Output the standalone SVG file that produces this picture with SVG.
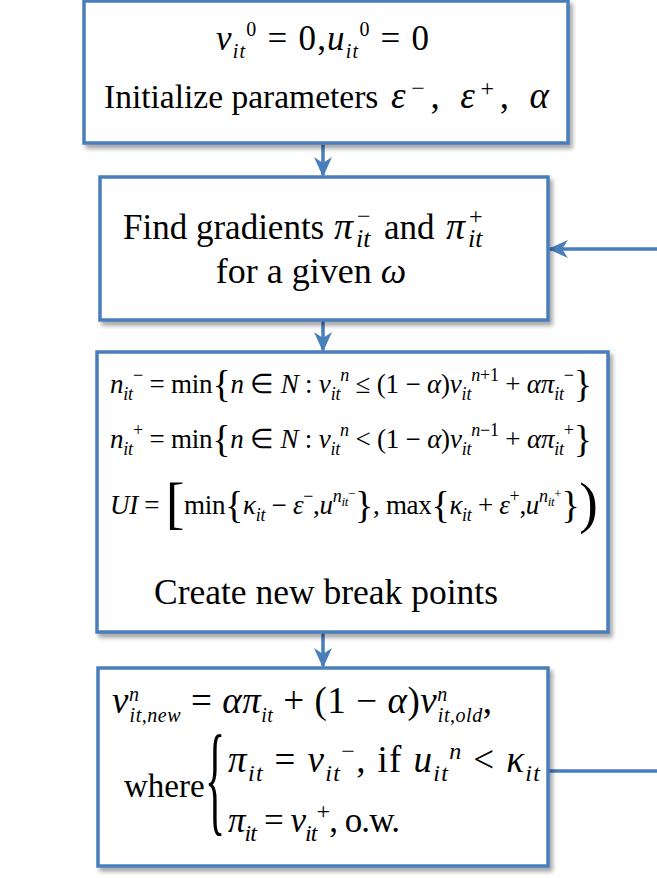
<svg xmlns="http://www.w3.org/2000/svg" width="657" height="878" viewBox="0 0 657 878">
<defs>
<filter id="sh" x="-5%" y="-5%" width="115%" height="120%">
<feDropShadow dx="3" dy="4" stdDeviation="2" flood-color="#000" flood-opacity="0.35"/>
</filter>
<marker id="ah" viewBox="0 0 20 20" refX="18" refY="10" markerWidth="20" markerHeight="20" markerUnits="userSpaceOnUse" orient="auto">
<path d="M0,1 L20,10 L0,19 L6,10 Z" fill="#4A7EBB"/>
</marker>
<style>
.box{fill:#fff;stroke:#4A7EBB;stroke-width:3.5;filter:url(#sh)}
.con{fill:none;stroke:#4A7EBB;stroke-width:3.5}
.t{font-family:"Liberation Serif","Times New Roman",serif;font-size:34px;fill:#000}
.f30{font-size:27px}
.i{font-style:italic}
.s{font-size:20px}
.s3{font-size:18px}
.s2{font-size:24px}
.ss{font-size:13px}
.br{font-size:38px}
.bg{font-size:56px}
</style>
</defs>

<g id="connectors">
<path class="con" d="M323,143 V175" marker-end="url(#ah)"/>
<path class="con" d="M323,320 V350" marker-end="url(#ah)"/>
<path class="con" d="M323,632 V666" marker-end="url(#ah)"/>
<path class="con" d="M548,771 H670 V249 H550" marker-end="url(#ah)"/>
</g>

<g id="init">
<rect class="box" x="84" y="1" width="484" height="142"/>
<text class="t" x="216" y="50" textLength="213" lengthAdjust="spacing" style="font-size:35px"><tspan class="i">v</tspan><tspan class="i s" baseline-shift="-8">it</tspan><tspan class="s" baseline-shift="14">0</tspan> = 0,<tspan class="i">u</tspan><tspan class="i s" baseline-shift="-8">it</tspan><tspan class="s" baseline-shift="14">0</tspan> = 0</text>
<text class="t" x="104" y="108" style="font-size:33.5px">Initialize parameters</text>
<text class="t" x="391" y="108" textLength="158" lengthAdjust="spacing" style="font-size:37px"><tspan class="i">ε</tspan><tspan class="s2" baseline-shift="12">−</tspan>, <tspan class="i">ε</tspan><tspan class="s2" baseline-shift="12">+</tspan>, <tspan class="i">α</tspan></text>
</g>

<g id="gradients">
<rect class="box" x="100" y="177" width="448" height="143"/>
<text class="t" x="123" y="239" style="font-size:35px">Find gradients</text>
<text class="t i" x="334" y="239" style="font-size:38px">π</text>
<text class="t i" x="356" y="247" style="font-size:26px">it</text>
<text class="t" x="357" y="224" style="font-size:24px">−</text>
<text class="t" x="384" y="239" style="font-size:35px">and</text>
<text class="t i" x="446" y="239" style="font-size:38px">π</text>
<text class="t i" x="468" y="247" style="font-size:26px">it</text>
<text class="t" x="469" y="224" style="font-size:24px">+</text>
<text class="t" x="311" y="283" text-anchor="middle" style="font-size:36px">for a given <tspan class="i">ω</tspan></text>
</g>

<g id="breakpoints">
<rect class="box" x="97" y="352" width="511" height="280"/>
<text class="t f30" x="110" y="393" textLength="482" lengthAdjust="spacing"><tspan class="i">n</tspan><tspan class="i s3" baseline-shift="-7">it</tspan><tspan class="s3" baseline-shift="12">−</tspan> = min<tspan class="br" baseline-shift="-4">{</tspan><tspan class="i">n</tspan> ∈ <tspan class="i">N</tspan> : <tspan class="i">v</tspan><tspan class="i s3" baseline-shift="-7">it</tspan><tspan class="i s3" baseline-shift="12">n</tspan> ≤ (1 − <tspan class="i">α</tspan>)<tspan class="i">v</tspan><tspan class="i s3" baseline-shift="-7">it</tspan><tspan class="s3" baseline-shift="12"><tspan class="i">n</tspan>+1</tspan> + <tspan class="i">απ</tspan><tspan class="i s3" baseline-shift="-7">it</tspan><tspan class="s3" baseline-shift="12">−</tspan><tspan class="br" baseline-shift="-4">}</tspan></text>
<text class="t f30" x="110" y="448" textLength="482" lengthAdjust="spacing"><tspan class="i">n</tspan><tspan class="i s3" baseline-shift="-7">it</tspan><tspan class="s3" baseline-shift="12">+</tspan> = min<tspan class="br" baseline-shift="-4">{</tspan><tspan class="i">n</tspan> ∈ <tspan class="i">N</tspan> : <tspan class="i">v</tspan><tspan class="i s3" baseline-shift="-7">it</tspan><tspan class="i s3" baseline-shift="12">n</tspan> &lt; (1 − <tspan class="i">α</tspan>)<tspan class="i">v</tspan><tspan class="i s3" baseline-shift="-7">it</tspan><tspan class="s3" baseline-shift="12"><tspan class="i">n</tspan>−1</tspan> + <tspan class="i">απ</tspan><tspan class="i s3" baseline-shift="-7">it</tspan><tspan class="s3" baseline-shift="12">+</tspan><tspan class="br" baseline-shift="-4">}</tspan></text>
<text class="t f30" x="110" y="514" textLength="488" lengthAdjust="spacing"><tspan class="i">UI</tspan> = <tspan class="bg" baseline-shift="-8">[</tspan>min<tspan class="br" baseline-shift="-4">{</tspan><tspan class="i">κ</tspan><tspan class="i s3" baseline-shift="-7">it</tspan> − <tspan class="i">ε</tspan><tspan class="s3" baseline-shift="12">−</tspan>,<tspan class="i">u</tspan><tspan class="s3" baseline-shift="12"><tspan class="i">n</tspan><tspan class="i ss" baseline-shift="-4">it</tspan><tspan class="ss" baseline-shift="4">−</tspan></tspan><tspan class="br" baseline-shift="-4">}</tspan>, max<tspan class="br" baseline-shift="-4">{</tspan><tspan class="i">κ</tspan><tspan class="i s3" baseline-shift="-7">it</tspan> + <tspan class="i">ε</tspan><tspan class="s3" baseline-shift="12">+</tspan>,<tspan class="i">u</tspan><tspan class="s3" baseline-shift="12"><tspan class="i">n</tspan><tspan class="i ss" baseline-shift="-4">it</tspan><tspan class="ss" baseline-shift="4">+</tspan></tspan><tspan class="br" baseline-shift="-4">}</tspan><tspan class="bg" baseline-shift="-8">)</tspan></text>
<text class="t" x="326" y="604" text-anchor="middle" style="font-size:35.5px">Create new break points</text>
</g>

<g id="update">
<rect class="box" x="98" y="668" width="450" height="198"/>
<text class="t" x="112" y="713" textLength="380" lengthAdjust="spacing" style="font-size:37px"><tspan class="i">v</tspan><tspan class="i s" baseline-shift="12">n</tspan><tspan class="i s" dx="-10" baseline-shift="-9">it,new</tspan> = <tspan class="i">απ</tspan><tspan class="i s" baseline-shift="-9">it</tspan> + (1 − <tspan class="i">α</tspan>)<tspan class="i">v</tspan><tspan class="i s" baseline-shift="12">n</tspan><tspan class="i s" dx="-10" baseline-shift="-9">it,old</tspan>,</text>
<text class="t" x="124" y="797" style="font-size:33px">where</text>
<text class="t" transform="translate(205,820) scale(1,2.9)" style="font-size:42px">{</text>
<text class="t" x="228" y="772" textLength="312" lengthAdjust="spacing" style="font-size:37px"><tspan class="i">π</tspan><tspan class="i s2" baseline-shift="-9">it</tspan> = <tspan class="i">v</tspan><tspan class="i s2" baseline-shift="-9">it</tspan><tspan class="s2" baseline-shift="13">−</tspan>, if <tspan class="i">u</tspan><tspan class="i s2" baseline-shift="-9">it</tspan><tspan class="i s2" baseline-shift="13">n</tspan> &lt; <tspan class="i">κ</tspan><tspan class="i s2" baseline-shift="-9">it</tspan></text>
<text class="t" x="228" y="832" textLength="172" lengthAdjust="spacing" style="font-size:35px"><tspan class="i">π</tspan><tspan class="i s2" baseline-shift="-9">it</tspan> = <tspan class="i">v</tspan><tspan class="i s2" baseline-shift="-9">it</tspan><tspan class="s2" baseline-shift="13">+</tspan>, o.w.</text>
</g>
</svg>
